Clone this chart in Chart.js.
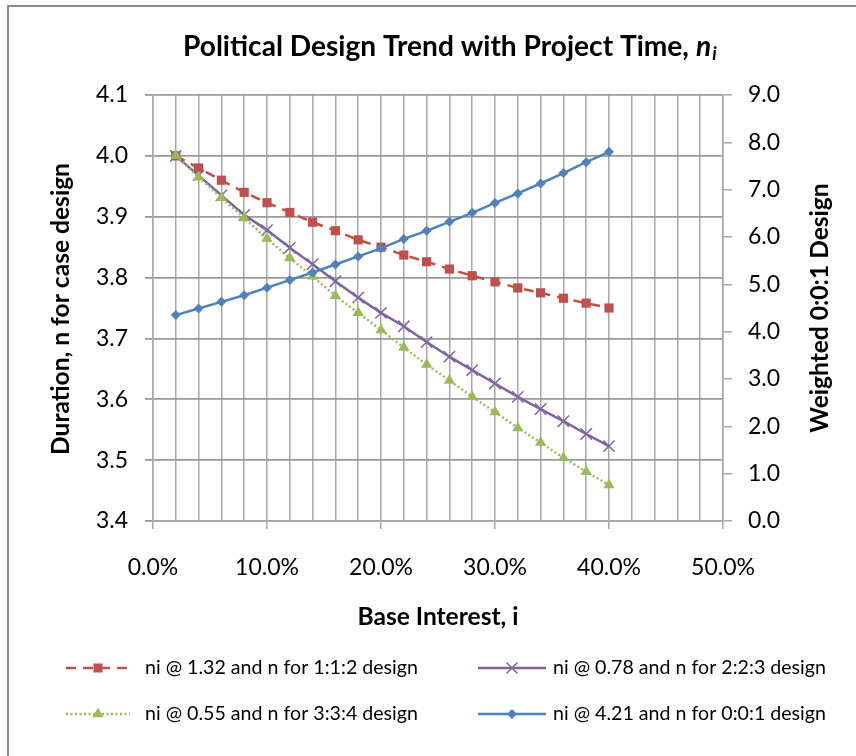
<!DOCTYPE html>
<html><head><meta charset="utf-8">
<script src="https://cdn.jsdelivr.net/npm/chart.js@4/dist/chart.umd.min.js"></script>
<style>html,body{margin:0;padding:0;background:#fff}#wrap{width:856px;height:756px}</style>
</head><body><div id="wrap"><canvas id="c" width="856" height="756"></canvas></div>
<script>
// ---- data ----
const interestPct = [2,4,6,8,10,12,14,16,18,20,22,24,26,28,30,32,34,36,38,40];
const design112 = [4.000,3.980,3.960,3.940,3.923,3.907,3.891,3.877,3.862,3.850,3.837,3.826,3.814,3.803,3.793,3.783,3.775,3.766,3.758,3.750];
const design223 = [4.000,3.968,3.935,3.903,3.878,3.849,3.822,3.794,3.767,3.742,3.720,3.694,3.670,3.648,3.626,3.604,3.584,3.564,3.543,3.523];
const design334 = [4.000,3.965,3.931,3.898,3.864,3.832,3.802,3.770,3.742,3.714,3.685,3.657,3.631,3.604,3.579,3.553,3.529,3.504,3.481,3.459];
const design001 = [4.35,4.49,4.63,4.77,4.93,5.09,5.25,5.42,5.59,5.76,5.96,6.13,6.32,6.51,6.72,6.92,7.13,7.35,7.58,7.80];
const xTickLabels = ['0.0%','10.0%','20.0%','30.0%','40.0%','50.0%'];
const leftTickLabels = ['3.4','3.5','3.6','3.7','3.8','3.9','4.0','4.1'];
const rightTickLabels = ['0.0','1.0','2.0','3.0','4.0','5.0','6.0','7.0','8.0','9.0'];
const legendLabels = ['ni @ 1.32 and n for 1:1:2 design','ni @ 0.78 and n for 2:2:3 design','ni @ 0.55 and n for 3:3:4 design','ni @ 4.21 and n for 0:0:1 design'];
const titleText = 'Political Design Trend with Project Time, ';
const titleVar = 'n';
const titleSub = 'i';
const xTitle = 'Base Interest, i';
const yLeftTitle = 'Duration, n for case design';
const yRightTitle = 'Weighted 0:0:1 Design';

// ---- styles ----
const FONT = 'Lato, "Open Sans", sans-serif';
const RED = '#C0504D', PURPLE = '#8064A2', GREEN = '#9BBB59', BLUE = '#4F81BD';
const GRID = '#a8a8a8';
const W = 856, H = 756;
const PLOT = {left:153, right:723, top:95, bottom:521};
const RED_DASH = [10,7], GREEN_DASH = [2,2.5];

function pts(arr){ return interestPct.map((x,i)=>({x:x, y:arr[i]})); }

function fitSize(c, text, weight, target){
  c.font = weight + ' 100px ' + FONT;
  return 100 * target / c.measureText(text).width;
}

function drawMarker(c, style, x, y, color){
  c.save();
  c.fillStyle = color; c.strokeStyle = color;
  c.beginPath();
  if (style === 'rect'){ c.rect(x-4.5,y-4.5,9,9); c.fill(); }
  else if (style === 'crossRot'){ c.lineWidth=1.5; const r=5.5; c.moveTo(x-r,y-r); c.lineTo(x+r,y+r); c.moveTo(x-r,y+r); c.lineTo(x+r,y-r); c.stroke(); }
  else if (style === 'triangle'){ const r=6.5; c.moveTo(x,y-r); c.lineTo(x+r*0.866,y+r*0.5); c.lineTo(x-r*0.866,y+r*0.5); c.closePath(); c.fill(); }
  else if (style === 'rectRot'){ const r=5; c.moveTo(x,y-r); c.lineTo(x+r,y); c.lineTo(x,y+r); c.lineTo(x-r,y); c.closePath(); c.fill(); }
  c.restore();
}

const legendSpec = [
  {label:legendLabels[0], color:RED, dash:RED_DASH, marker:'rect', lx:66, rx:130, tx:145, y:668},
  {label:legendLabels[1], color:PURPLE, dash:[], marker:'crossRot', lx:478, rx:546, tx:553, y:668},
  {label:legendLabels[2], color:GREEN, dash:GREEN_DASH, marker:'triangle', lx:66, rx:130, tx:145, y:714},
  {label:legendLabels[3], color:BLUE, dash:[], marker:'rectRot', lx:478, rx:546, tx:553, y:714}
];

const decor = {
  id:'decor',
  beforeDraw(chart){
    const c = chart.ctx; c.save();
    c.fillStyle='#fff'; c.fillRect(0,0,W,H);
    c.strokeStyle='#8c8c8c'; c.lineWidth=2; c.strokeRect(8,6,W+20,H+20);
    c.restore();
  },
  afterDraw(chart){
    const c = chart.ctx; c.save();
    c.fillStyle = '#000';
    // title
    let s = 21;
    c.font = 'bold '+s+'px '+FONT; const w1 = c.measureText(titleText).width;
    c.font = 'italic bold '+s+'px '+FONT; const w2 = c.measureText(titleVar).width;
    c.font = 'italic bold '+(s*0.65)+'px '+FONT; const w3 = c.measureText(titleSub).width;
    const k = 534/(w1+w2+w3+1); s = s*k;
    let x = 450 - 267; const by = 56;
    c.textBaseline='alphabetic'; c.textAlign='left';
    c.font = 'bold '+s+'px '+FONT; c.fillText(titleText, x, by); x += w1*k;
    c.font = 'italic bold '+s+'px '+FONT; c.fillText(titleVar, x, by); x += w2*k + 1;
    c.font = 'italic bold '+(s*0.65)+'px '+FONT; c.fillText(titleSub, x, by+4);
    // axis titles
    const as = fitSize(c, yLeftTitle, 'bold', 292);
    c.font = 'bold '+as+'px '+FONT; c.textAlign='center'; c.textBaseline='middle';
    c.save(); c.translate(61,309); c.rotate(-Math.PI/2); c.fillText(yLeftTitle,0,0); c.restore();
    c.save(); c.translate(820,308); c.rotate(-Math.PI/2); c.fillText(yRightTitle,0,0); c.restore();
    c.fillText(xTitle, 438, 617);
    // legend
    const ls = fitSize(c, legendLabels[0], '', 273);
    legendSpec.forEach(L=>{
      c.save();
      c.strokeStyle=L.color; c.lineWidth=2.5; c.setLineDash(L.dash);
      c.beginPath(); c.moveTo(L.lx,L.y); c.lineTo(L.rx,L.y); c.stroke();
      c.restore();
      drawMarker(c, L.marker, (L.lx+L.rx)/2, L.y, L.color);
      c.font = ls+'px '+FONT; c.textAlign='left'; c.textBaseline='middle'; c.fillStyle='#000';
      c.fillText(L.label, L.tx, L.y);
    });
    c.restore();
  }
};

const tickFont = {family:FONT, size:23};

new Chart(document.getElementById('c'), {
  type:'line',
  data:{datasets:[
    {label:legendLabels[0], data:pts(design112), yAxisID:'y', order:3, borderColor:RED, backgroundColor:RED, borderWidth:2.5, borderDash:RED_DASH, pointStyle:'rect', pointRadius:6.5, pointBackgroundColor:RED, pointBorderColor:RED, pointBorderWidth:0},
    {label:legendLabels[1], data:pts(design223), yAxisID:'y', order:2, borderColor:PURPLE, backgroundColor:PURPLE, borderWidth:2.5, pointStyle:'crossRot', pointRadius:8, pointBorderColor:PURPLE, pointBorderWidth:1.5},
    {label:legendLabels[2], data:pts(design334), yAxisID:'y', order:1, borderColor:GREEN, backgroundColor:GREEN, borderWidth:2.5, borderDash:GREEN_DASH, pointStyle:'triangle', pointRadius:6.5, pointBackgroundColor:GREEN, pointBorderColor:GREEN, pointBorderWidth:0},
    {label:legendLabels[3], data:pts(design001), yAxisID:'y1', order:0, borderColor:BLUE, backgroundColor:BLUE, borderWidth:2.5, pointStyle:'rectRot', pointRadius:5, pointBackgroundColor:BLUE, pointBorderColor:BLUE, pointBorderWidth:0}
  ]},
  options:{
    responsive:false, animation:false, devicePixelRatio:1,
    layout:{padding:{top:PLOT.top, left:0, right:0, bottom:0}},
    plugins:{legend:{display:false}, tooltip:{enabled:false}, title:{display:false}},
    scales:{
      x:{type:'linear', min:0, max:50,
        ticks:{stepSize:2, autoSkip:false, maxRotation:0, font:tickFont, color:'#000', padding:25,
          callback:(v,i)=> (i%5===0 ? xTickLabels[i/5] : '')},
        grid:{color:GRID, lineWidth:1.5, tickLength:8, tickColor:(ctx)=> (ctx.index%5===0 ? GRID : 'rgba(0,0,0,0)')},
        border:{color:GRID, width:1.5},
        afterFit:(s)=>{ s.height = H - PLOT.bottom; }
      },
      y:{type:'linear', position:'left', min:3.4, max:4.1,
        ticks:{stepSize:0.1, font:tickFont, color:'#000', padding:17, callback:(v,i)=>leftTickLabels[i]},
        grid:{color:'#9a9a9a', lineWidth:1.8, tickLength:8},
        border:{color:GRID, width:1.5},
        afterFit:(s)=>{ s.width = PLOT.left; }
      },
      y1:{type:'linear', position:'right', min:0, max:9,
        ticks:{stepSize:1, font:tickFont, color:'#000', padding:16, callback:(v,i)=>rightTickLabels[i]},
        grid:{drawOnChartArea:false, color:GRID, lineWidth:1.5, tickLength:9},
        border:{color:GRID, width:1.5},
        afterFit:(s)=>{ s.width = W - PLOT.right; }
      }
    }
  },
  plugins:[decor]
});
</script></body></html>
